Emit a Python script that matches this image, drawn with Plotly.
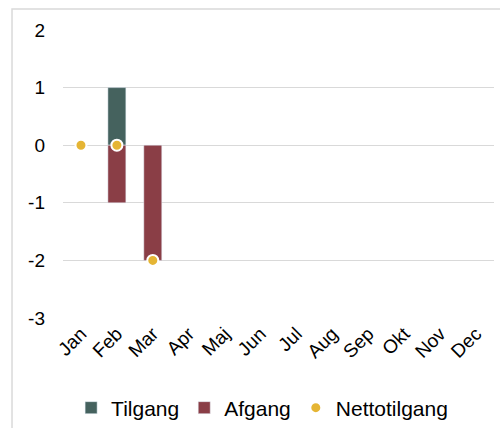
import plotly.graph_objects as go

months = ["Jan", "Feb", "Mar", "Apr", "Maj", "Jun", "Jul", "Aug", "Sep", "Okt", "Nov", "Dec"]
tilgang = [None, 1, None, None, None, None, None, None, None, None, None, None]
afgang = [None, -1, -2, None, None, None, None, None, None, None, None, None]
netto = [0, 0, -2, None, None, None, None, None, None, None, None, None]
y_ticks = [-3, -2, -1, 0, 1, 2]
y_ticktext = ["-3", "-2", "-1", "0", "1", "2"]

fig = go.Figure()
fig.add_trace(go.Bar(x=months, y=tilgang, name="Tilgang", marker_color="#45625E"))
fig.add_trace(go.Bar(x=months, y=afgang, name="Afgang", marker_color="#8A3E46"))
fig.add_trace(go.Scatter(x=months, y=netto, name="Nettotilgang", mode="markers",
                         marker=dict(color="#E5B534", size=11, line=dict(color="white", width=2))))

fig.update_layout(
    width=500, height=428,
    barmode="relative", bargap=0.5,
    paper_bgcolor="white", plot_bgcolor="white",
    margin=dict(l=63, r=6, t=30, b=110, autoexpand=False),
    font=dict(family="Liberation Sans, Arial, sans-serif", color="#000000"),
    showlegend=True,
    legend=dict(orientation="h", x=0.462, xanchor="center", y=-0.3125, yanchor="middle",
                font=dict(size=21), itemwidth=30, traceorder="normal"),
    xaxis=dict(tickangle=-45, tickfont=dict(size=19), showgrid=False, showline=False,
               ticks="", fixedrange=True, automargin=False, range=[-0.5, 11.5]),
    yaxis=dict(range=[-3, 2], tickvals=y_ticks, ticktext=y_ticktext, tickfont=dict(size=19),
               showgrid=True, gridcolor="#d9d9d9", gridwidth=1, zeroline=True,
               zerolinecolor="#d9d9d9", zerolinewidth=1, showline=False, ticks="",
               ticklabelstandoff=17, automargin=False, fixedrange=True),
    shapes=[dict(type="rect", xref="paper", yref="paper", x0=-0.1183, x1=1.2, y0=-0.6, y1=1.0729,
                 line=dict(color="#d9d9d9", width=1.5), fillcolor="rgba(0,0,0,0)", layer="below")],
)

fig.write_html("out.html", config={"displayModeBar": False},
               post_script="document.body.style.margin='0';document.body.style.overflow='hidden';")
